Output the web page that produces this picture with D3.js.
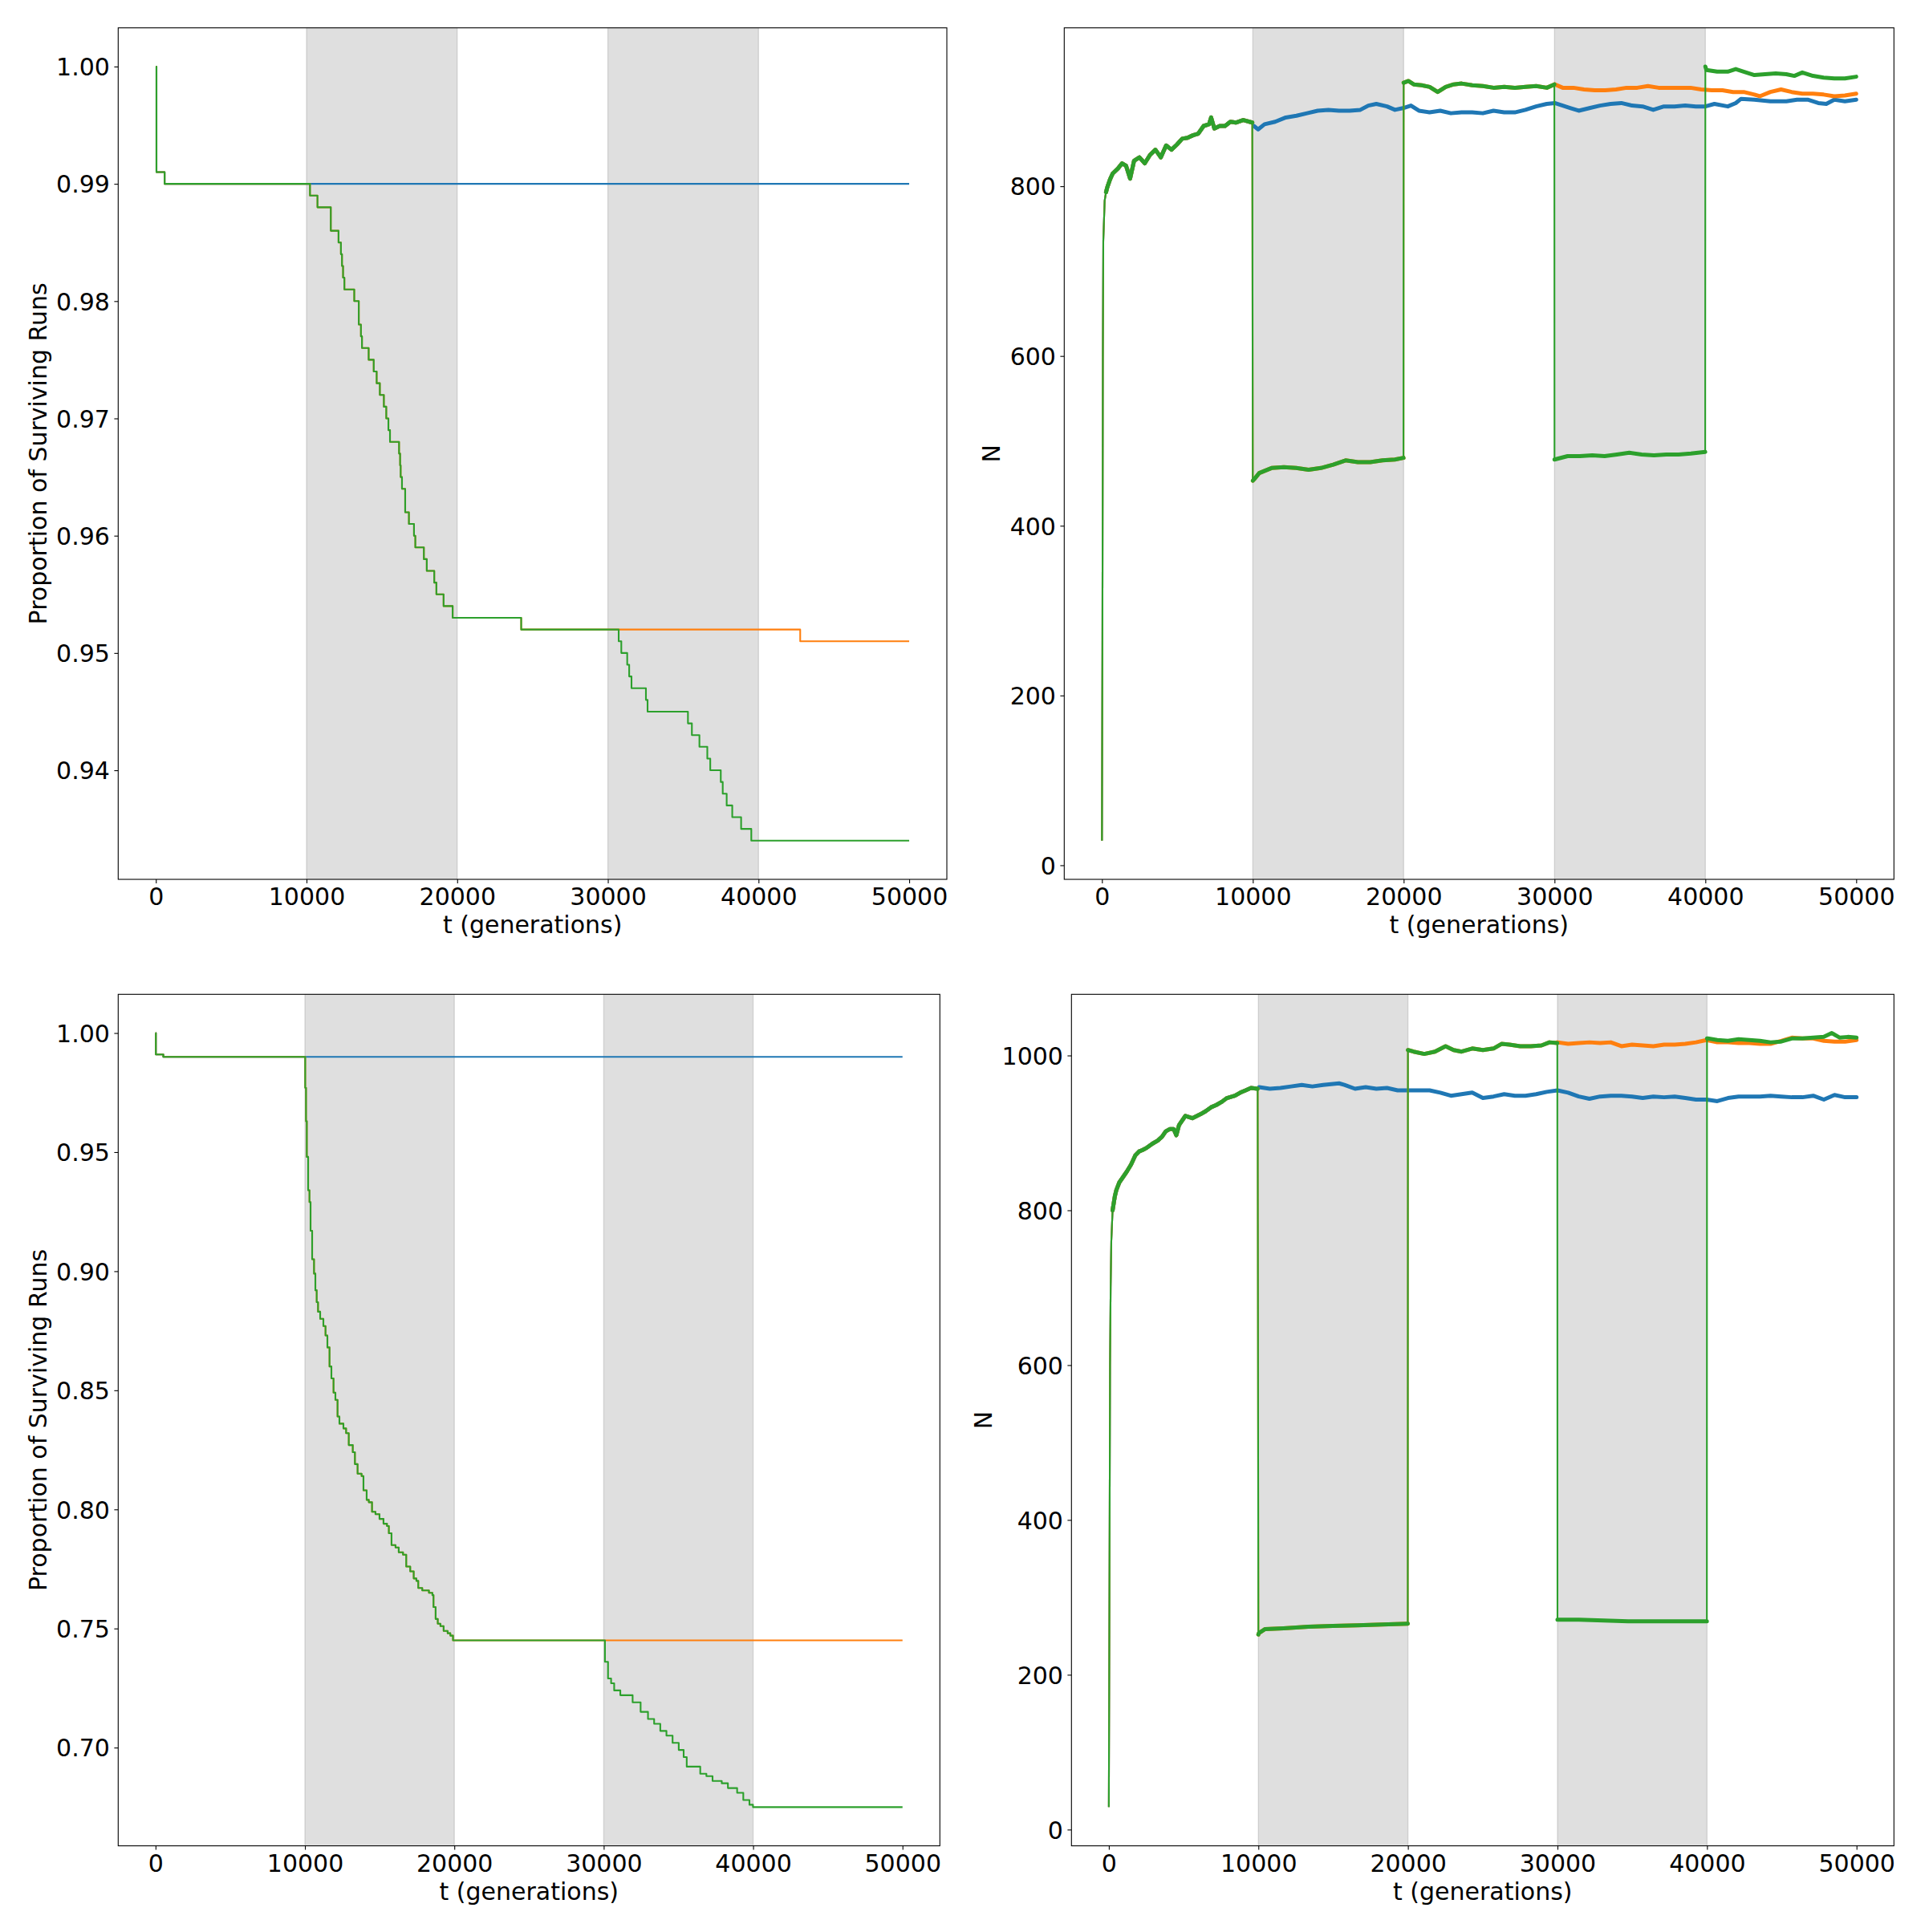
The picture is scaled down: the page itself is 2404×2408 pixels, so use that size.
<!DOCTYPE html>
<html>
<head>
<meta charset="utf-8">
<script src="https://cdn.jsdelivr.net/npm/d3@7"></script>
<style>
  body { margin: 0; background: #fff; }
</style>
</head>
<body>
<div id="chart"></div>
<script>
// ---- shared ----
var xTicks = [0, 10000, 20000, 30000, 40000, 50000];
var stressPeriods = [[10000, 20000], [30000, 40000]];
var colors = { blue: "#1f77b4", orange: "#ff7f0e", green: "#2ca02c" };

// ---- top left: proportion of surviving runs, [t, value] steps ----
var tlYTicks = [0.94, 0.95, 0.96, 0.97, 0.98, 0.99, 1.00];
var tlCommon = [[0, 1.0], [40, 0.991], [580, 0.990]];
var tlBlueTail = [[50000, 0.990]];
var tlStress1 = [[10000, 0.990], [10230, 0.989], [10726, 0.988], [11611, 0.986], [12124, 0.985], [12283, 0.984],
  [12354, 0.983], [12425, 0.982], [12513, 0.981], [13168, 0.980], [13469, 0.978], [13611, 0.977], [13681, 0.976],
  [14124, 0.975], [14460, 0.974], [14655, 0.973], [14867, 0.972], [15133, 0.971], [15292, 0.970], [15434, 0.969],
  [15540, 0.968], [16142, 0.967], [16212, 0.966], [16248, 0.965], [16336, 0.964], [16549, 0.962], [16796, 0.961],
  [17133, 0.960], [17221, 0.959], [17788, 0.958], [17982, 0.957], [18478, 0.956], [18619, 0.955], [19097, 0.954],
  [19699, 0.953], [24248, 0.952]];
var tlOrangeTail = [[42767, 0.951], [50000, 0.951]];
var tlStress2 = [[30719, 0.951], [30893, 0.950], [31285, 0.949], [31416, 0.948], [31569, 0.947], [32527, 0.946],
  [32636, 0.945], [35316, 0.944], [35577, 0.943], [36078, 0.942], [36601, 0.941], [36797, 0.940], [37495, 0.939],
  [37625, 0.938], [37887, 0.937], [38257, 0.936], [38845, 0.935], [39521, 0.934], [50000, 0.934]];

// ---- bottom left ----
var blYTicks = [0.70, 0.75, 0.80, 0.85, 0.90, 0.95, 1.00];
var blCommon = [[0, 1.0], [20, 0.991], [520, 0.990]];
var blBlueTail = [[50000, 0.990]];
var blStress1 = [[10000, 0.990], [10018, 0.977], [10072, 0.963], [10125, 0.948], [10215, 0.934], [10304, 0.929],
  [10376, 0.917], [10483, 0.905], [10608, 0.899], [10698, 0.892], [10787, 0.887], [10877, 0.883], [11020, 0.880],
  [11234, 0.877], [11377, 0.873], [11503, 0.868], [11646, 0.860], [11771, 0.855], [11914, 0.849], [12039, 0.846],
  [12182, 0.839], [12308, 0.836], [12576, 0.834], [12755, 0.832], [12934, 0.827], [13202, 0.824], [13345, 0.819],
  [13524, 0.815], [13792, 0.814], [13918, 0.808], [14132, 0.804], [14275, 0.803], [14490, 0.799], [14722, 0.798],
  [14991, 0.796], [15259, 0.794], [15492, 0.793], [15617, 0.790], [15796, 0.785], [16064, 0.784], [16279, 0.782],
  [16565, 0.781], [16780, 0.776], [17048, 0.774], [17281, 0.771], [17460, 0.770], [17585, 0.767], [17853, 0.766],
  [18301, 0.765], [18533, 0.764], [18605, 0.759], [18748, 0.754], [18891, 0.752], [19070, 0.751], [19284, 0.749],
  [19553, 0.748], [19732, 0.747], [19911, 0.745]];
var blOrangeTail = [[50000, 0.745]];
var blStress2 = [[30000, 0.745], [30082, 0.736], [30288, 0.729], [30494, 0.727], [30700, 0.724], [31111, 0.722],
  [31934, 0.719], [32469, 0.715], [32963, 0.712], [33374, 0.710], [33786, 0.707], [34198, 0.705], [34609, 0.702],
  [35021, 0.699], [35350, 0.696], [35556, 0.692], [36461, 0.689], [36872, 0.688], [37284, 0.686], [37901, 0.685],
  [38313, 0.683], [38930, 0.681], [39342, 0.678], [39753, 0.676], [39990, 0.675], [50000, 0.675]];

// ---- top right: population size N ----
var trYTicks = [0, 200, 400, 600, 800];
var trEarly = [[0, 29], [30, 250], [60, 600], [90, 736], [180, 783], [270, 793], [360, 799], [535, 808], [713, 815],
  [1067, 821], [1333, 827], [1600, 824], [1865, 809], [2130, 830], [2484, 834], [2840, 827], [3190, 837], [3545, 843],
  [3900, 834], [4255, 848], [4610, 843], [4965, 849], [5320, 856], [5675, 857], [6030, 860], [6385, 862], [6740, 871],
  [7095, 873], [7237, 881], [7450, 868], [7805, 871], [8160, 871], [8515, 876], [8870, 875], [9365, 878], [9965, 875]];
var trBlueLate = [[10071, 871], [10353, 867], [10776, 873], [11482, 876], [12187, 881], [12893, 883], [13599, 886],
  [14305, 889], [15011, 890], [15717, 889], [16423, 889], [17129, 890], [17658, 895], [18188, 897], [18894, 894],
  [19424, 890], [19953, 892], [20483, 895], [21012, 889], [21718, 887], [22424, 889], [23130, 886], [23836, 887],
  [24542, 887], [25248, 886], [25955, 889], [26661, 887], [27367, 887], [28073, 890], [28779, 894], [29485, 897],
  [30014, 898], [30544, 895], [31073, 892], [31603, 889], [32309, 892], [33015, 895], [33721, 897], [34427, 898],
  [35133, 895], [35839, 894], [36545, 890], [37251, 894], [37957, 894], [38663, 895], [39369, 894], [40000, 894],
  [40600, 897], [41485, 894], [42014, 898], [42367, 903], [43250, 902], [44309, 900], [45368, 900], [46074, 902],
  [46780, 902], [47486, 898], [48016, 897], [48545, 902], [49251, 900], [50000, 902]];
var trGreenLow1 = [[10000, 453], [10100, 455], [10425, 462], [11243, 468], [12060, 469], [12878, 468], [13696, 466],
  [14513, 468], [15331, 472], [16149, 477], [16966, 475], [17784, 475], [18602, 477], [19419, 478], [19990, 480]];
var trGreenHigh2 = [[20000, 922], [20314, 924], [20667, 920], [21196, 919], [21726, 917], [22255, 911], [22785, 917],
  [23314, 920], [23844, 921], [24550, 919], [25256, 918], [25962, 916], [26668, 917], [27374, 916], [28080, 917],
  [28786, 918], [29492, 916], [29990, 920]];
var trGreenLow3 = [[30000, 478], [30867, 482], [31684, 482], [32502, 483], [33320, 482], [34137, 484], [34955, 486],
  [35773, 484], [36590, 483], [37408, 484], [38226, 484], [39043, 485], [39990, 487]];
var trOrangeLate = [[30014, 920], [30544, 916], [31250, 916], [31956, 914], [32662, 913], [33368, 913], [34074, 914],
  [34780, 916], [35486, 916], [36192, 918], [36898, 916], [37604, 916], [38310, 916], [39016, 916], [39722, 914],
  [40428, 913], [41134, 913], [41840, 911], [42546, 911], [43250, 908], [43604, 906], [44309, 911], [45015, 914],
  [45721, 911], [46427, 909], [47133, 909], [47839, 908], [48545, 906], [49251, 907], [50000, 909]];
var trGreenHigh5 = [[40000, 941], [40070, 937], [40777, 935], [41483, 935], [42014, 938], [42543, 935], [43250, 931],
  [43956, 932], [44662, 933], [45368, 932], [45897, 930], [46427, 934], [47133, 930], [47839, 928], [48545, 927],
  [49251, 927], [50000, 929]];

// ---- bottom right ----
var brYTicks = [0, 200, 400, 600, 800, 1000];
var brEarly = [[0, 29], [40, 300], [80, 600], [120, 700], [165, 760], [250, 800], [400, 818], [500, 826], [700, 836],
  [951, 843], [1200, 850], [1485, 859], [1770, 871], [2020, 876], [2269, 878], [2554, 881], [2911, 886], [3267, 890],
  [3552, 895], [3801, 902], [4086, 905], [4336, 905], [4514, 897], [4692, 910], [5119, 922], [5583, 919], [6117, 924],
  [6473, 928], [6830, 933], [7186, 936], [7542, 940], [7899, 945], [8433, 948], [8790, 952], [9146, 955], [9502, 958],
  [9950, 957]];
var brBlueLate = [[10049, 959], [10761, 957], [11474, 958], [12186, 960], [12899, 962], [13611, 960], [14324, 962],
  [14858, 963], [15393, 964], [15749, 962], [16462, 957], [17174, 959], [17887, 957], [18599, 958], [19312, 955],
  [20024, 955], [20737, 955], [21449, 955], [22162, 952], [22874, 948], [23587, 950], [24299, 952], [25012, 945],
  [25724, 947], [26437, 950], [27149, 948], [27862, 948], [28574, 950], [29287, 953], [30000, 955], [30712, 952],
  [31425, 947], [32137, 944], [32850, 947], [33562, 948], [34275, 948], [34987, 947], [35700, 945], [36412, 947],
  [37125, 946], [37837, 947], [38550, 945], [39262, 943], [39975, 943], [40687, 941], [41400, 945], [42112, 947],
  [42825, 947], [43537, 947], [44250, 948], [44962, 947], [45675, 946], [46387, 946], [47100, 948], [47812, 943],
  [48525, 949], [49237, 946], [50000, 946]];
var brGreenLow1 = [[10000, 252], [10041, 254], [10453, 259], [11687, 260], [13333, 262], [14979, 263], [16626, 264],
  [18272, 265], [19990, 266]];
var brGreenHigh2 = [[20000, 1007], [20381, 1005], [21093, 1002], [21806, 1005], [22518, 1012], [23052, 1007],
  [23587, 1005], [24299, 1009], [25012, 1007], [25724, 1009], [26259, 1015], [26793, 1014], [27506, 1012],
  [28218, 1012], [28931, 1013], [29465, 1017], [29990, 1016]];
var brGreenLow3 = [[30000, 271], [31440, 271], [33086, 270], [34733, 269], [36379, 269], [38025, 269], [39990, 269]];
var brOrangeLate = [[30000, 1017], [30712, 1015], [31425, 1016], [32137, 1017], [32850, 1016], [33562, 1017],
  [34275, 1012], [34987, 1014], [35700, 1013], [36412, 1012], [37125, 1014], [37837, 1014], [38550, 1015],
  [39262, 1017], [39975, 1020], [40687, 1017], [41400, 1017], [42112, 1016], [42825, 1016], [43537, 1015],
  [44250, 1015], [45000, 1019], [45675, 1023], [46387, 1022], [47100, 1022], [47812, 1019], [48525, 1018],
  [49237, 1018], [50000, 1020]];
var brGreenHigh5 = [[40000, 1022], [40050, 1022], [40687, 1020], [41400, 1019], [42112, 1021], [42825, 1020],
  [43537, 1019], [44250, 1017], [44962, 1018], [45675, 1022], [46387, 1022], [47100, 1023], [47812, 1024],
  [48346, 1029], [48881, 1023], [49415, 1024], [50000, 1023]];

// ---- layout ----
var fontSize = 30;
var tickLen = 4.9;

var svg = d3.select("#chart").append("svg")
  .attr("width", 2404)
  .attr("height", 2408)
  .style("font-family", "'DejaVu Sans'");

var panels = [
  { id: "tl", left: 147.3, top: 34.7, right: 1180, bottom: 1096, step: true,
    yTicks: tlYTicks, yFormat: d3.format(".2f"), yLabel: "Proportion of Surviving Runs",
    series: [
      { color: colors.blue, segments: [tlCommon, tlBlueTail] },
      { color: colors.orange, segments: [tlCommon, tlStress1, tlOrangeTail] },
      { color: colors.green, segments: [tlCommon, tlStress1, tlStress2] }] },
  { id: "tr", left: 1326.3, top: 34.7, right: 2360.3, bottom: 1096, step: false,
    yTicks: trYTicks, yFormat: d3.format("d"), yLabel: "N",
    series: [
      { color: colors.blue, segments: [trEarly, trBlueLate] },
      { color: colors.orange, segments: [trEarly, trGreenLow1, trGreenHigh2, trOrangeLate] },
      { color: colors.green, segments: [trEarly, trGreenLow1, trGreenHigh2, trGreenLow3, trGreenHigh5] }] },
  { id: "bl", left: 147.3, top: 1239.3, right: 1171.3, bottom: 2300.6, step: true,
    yTicks: blYTicks, yFormat: d3.format(".2f"), yLabel: "Proportion of Surviving Runs",
    series: [
      { color: colors.blue, segments: [blCommon, blBlueTail] },
      { color: colors.orange, segments: [blCommon, blStress1, blOrangeTail] },
      { color: colors.green, segments: [blCommon, blStress1, blStress2] }] },
  { id: "br", left: 1335.3, top: 1239.3, right: 2360.3, bottom: 2300.6, step: false,
    yTicks: brYTicks, yFormat: d3.format("d"), yLabel: "N",
    series: [
      { color: colors.blue, segments: [brEarly, brBlueLate] },
      { color: colors.orange, segments: [brEarly, brGreenLow1, brGreenHigh2, brOrangeLate] },
      { color: colors.green, segments: [brEarly, brGreenLow1, brGreenHigh2, brGreenLow3, brGreenHigh5] }] }
];

function padded(ext) {
  var m = (ext[1] - ext[0]) * 0.05;
  return [ext[0] - m, ext[1] + m];
}

panels.forEach(function (p) {
  var w = p.right - p.left, h = p.bottom - p.top;
  var g = svg.append("g").attr("transform", "translate(" + p.left + "," + p.top + ")");

  var allPts = [];
  p.series.forEach(function (s) {
    s.points = [].concat.apply([], s.segments);
    allPts = allPts.concat(s.points);
  });

  // matplotlib style autoscale: data extent plus 5% margins
  var x = d3.scaleLinear().domain(padded(d3.extent(allPts, function (d) { return d[0]; }))).range([0, w]);
  var y = d3.scaleLinear().domain(padded(d3.extent(allPts, function (d) { return d[1]; }))).range([h, 0]);

  g.append("clipPath").attr("id", "clip-" + p.id)
    .append("rect").attr("width", w).attr("height", h);
  var plot = g.append("g").attr("clip-path", "url(#clip-" + p.id + ")");

  // shaded stress periods
  plot.selectAll("rect.span").data(stressPeriods).join("rect")
    .attr("class", "span")
    .attr("x", function (d) { return x(d[0]); })
    .attr("width", function (d) { return x(d[1]) - x(d[0]); })
    .attr("y", -2).attr("height", h + 4)
    .attr("fill", "#808080").attr("fill-opacity", 0.25)
    .attr("stroke", "#808080").attr("stroke-opacity", 0.25).attr("stroke-width", 1.4);

  var line = d3.line()
    .curve(p.step ? d3.curveStepAfter : d3.curveLinear)
    .x(function (d) { return x(d[0]); })
    .y(function (d) { return y(d[1]); });

  p.series.forEach(function (s) {
    plot.append("path")
      .datum(s.points)
      .attr("fill", "none")
      .attr("stroke", s.color)
      .attr("stroke-width", 2.1)
      .attr("stroke-linejoin", "round")
      .attr("d", line);
    if (!p.step) {
      // noisy plateaus read as a wider band in the original
      s.segments.forEach(function (seg) {
        plot.append("path")
          .datum(seg.filter(function (d) { return d[0] >= 200; }))
          .attr("fill", "none")
          .attr("stroke", s.color)
          .attr("stroke-width", 5)
          .attr("stroke-linejoin", "round")
          .attr("stroke-linecap", "round")
          .attr("d", line);
      });
    }
  });

  // axes
  var xAxis = g.append("g")
    .attr("transform", "translate(0," + h + ")")
    .call(d3.axisBottom(x).tickValues(xTicks).tickFormat(d3.format("d")).tickSize(tickLen).tickPadding(6.2));
  var yAxis = g.append("g")
    .call(d3.axisLeft(y).tickValues(p.yTicks).tickFormat(p.yFormat).tickSize(tickLen).tickPadding(5.5));

  [xAxis, yAxis].forEach(function (a) {
    a.select(".domain").remove();
    a.attr("font-size", fontSize).attr("font-family", "'DejaVu Sans'");
    a.selectAll("line").attr("stroke", "#000").attr("stroke-width", 1.1);
    a.selectAll("text").attr("fill", "#000");
  });
  yAxis.selectAll("text").attr("dy", "0.36em");

  // frame
  g.append("rect")
    .attr("width", w).attr("height", h)
    .attr("fill", "none").attr("stroke", "#000").attr("stroke-width", 1.1);

  // axis labels
  g.append("text")
    .attr("x", w / 2).attr("y", h + 67)
    .attr("text-anchor", "middle")
    .attr("font-size", fontSize)
    .text("t (generations)");

  var maxW = d3.max(yAxis.selectAll("text").nodes(), function (n) { return n.getComputedTextLength(); });
  var lx = -(tickLen + 5.5 + maxW + 5.6 + 7);
  g.append("text")
    .attr("transform", "translate(" + lx + "," + (h / 2) + ") rotate(-90)")
    .attr("text-anchor", "middle")
    .attr("font-size", fontSize)
    .text(p.yLabel);
});
</script>
</body>
</html>
